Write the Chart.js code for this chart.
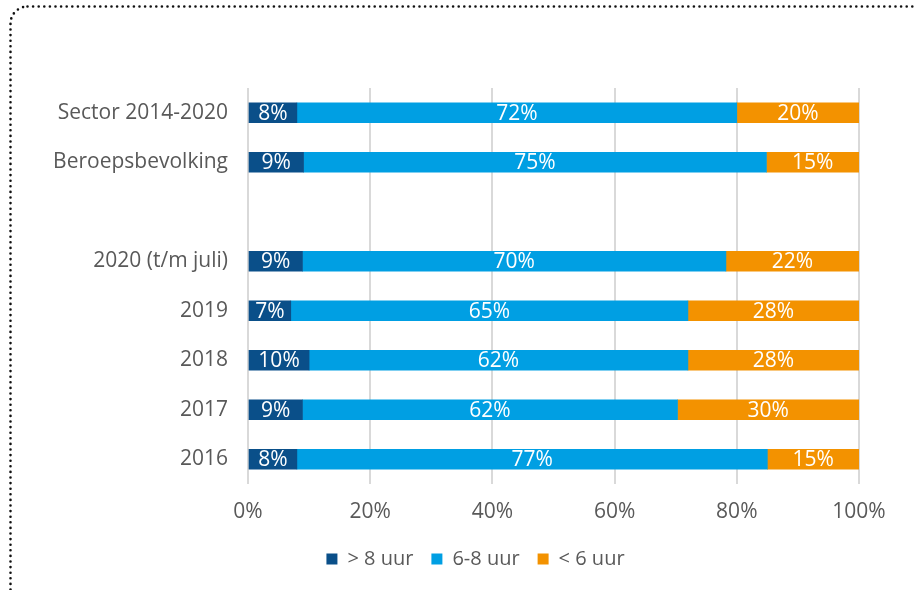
<!DOCTYPE html>
<html>
<head>
<meta charset="utf-8">
<script src="https://cdn.jsdelivr.net/npm/chart.js@4.4.1/dist/chart.umd.min.js"></script>
<style>
    html, body { margin: 0; padding: 0; background: #fff; overflow: hidden; }
    #frame { position: absolute; left: 0; top: 0; }
    #wrap { position: absolute; left: 0; top: 0; width: 914px; height: 590px; }
</style>
</head>
<body>
<svg id="frame" width="914" height="590">
    <rect x="10.5" y="6.5" width="1000" height="700" rx="17" fill="none" stroke="#111"
          stroke-width="2.6" stroke-dasharray="0 5.6" stroke-linecap="round"/>
</svg>
<div id="wrap"><canvas id="slaapChart"></canvas></div>
<script>
const categories = ['Sector 2014-2020', 'Beroepsbevolking', '', '2020 (t/m juli)', '2019', '2018', '2017', '2016'];
const meerDan8 = [8, 9, null, 9, 7, 10, 9, 8];
const tussen6en8 = [72, 75, null, 70, 65, 62, 62, 77];
const minderDan6 = [20, 15, null, 22, 28, 28, 30, 15];
const xTicks = [0, 20, 40, 60, 80, 100];

const colors = {
    dark: '#0a4f89',
    light: '#009fe3',
    orange: '#f39200',
    text: '#595959',
    grid: '#d9d9d9'
};

// 100% gestapeld: elk segment als aandeel van de rijtotaal
function share(series) {
    return series.map((v, i) => {
        if (v === null) return null;
        const total = meerDan8[i] + tussen6en8[i] + minderDan6[i];
        return v / total * 100;
    });
}

const rawSeries = [meerDan8, tussen6en8, minderDan6];

const barLabels = {
    id: 'barLabels',
    afterDatasetsDraw(chart) {
        const ctx = chart.ctx;
        ctx.save();
        ctx.fillStyle = '#fff';
        ctx.font = '21px "Open Sans"';
        ctx.textAlign = 'center';
        ctx.textBaseline = 'middle';
        chart.data.datasets.forEach((ds, di) => {
            const meta = chart.getDatasetMeta(di);
            meta.data.forEach((bar, i) => {
                const v = rawSeries[di][i];
                if (v === null) return;
                const p = bar.getProps(['x', 'y', 'base'], true);
                ctx.fillText(v + '%', (p.x + p.base) / 2, p.y + 1);
            });
        });
        ctx.restore();
    }
};

// legenda iets naar rechts, zoals in het origineel
const legendShift = {
    id: 'legendShift',
    afterLayout(chart) {
        chart.legend.left += 46;
        chart.legend.right += 46;
    }
};

Chart.defaults.font.family = '"Open Sans", sans-serif';
Chart.defaults.font.size = 21;
Chart.defaults.color = colors.text;

new Chart(document.getElementById('slaapChart'), {
    type: 'bar',
    data: {
        labels: categories,
        datasets: [
            { label: '> 8 uur', data: share(meerDan8), backgroundColor: colors.dark },
            { label: '6-8 uur', data: share(tussen6en8), backgroundColor: colors.light },
            { label: '< 6 uur', data: share(minderDan6), backgroundColor: colors.orange }
        ]
    },
    options: {
        indexAxis: 'y',
        responsive: true,
        maintainAspectRatio: false,
        animation: false,
        datasets: {
            bar: { barThickness: 20 }
        },
        layout: {
            padding: { left: 0, top: 88, right: 55, bottom: 11 }
        },
        plugins: {
            legend: {
                position: 'bottom',
                labels: {
                    boxWidth: 11,
                    boxHeight: 11,
                    padding: 18,
                    color: colors.text,
                    font: { size: 20 }
                }
            },
            tooltip: { enabled: false }
        },
        scales: {
            x: {
                stacked: true,
                min: 0,
                max: 100,
                afterBuildTicks(scale) {
                    scale.ticks = xTicks.map(v => ({ value: v }));
                },
                afterFit(scale) {
                    scale.height = 47;
                },
                ticks: {
                    padding: 15,
                    callback: v => v + '%'
                },
                grid: {
                    color: colors.grid,
                    lineWidth: 2,
                    drawTicks: false
                },
                border: { display: false }
            },
            y: {
                stacked: true,
                afterFit(scale) {
                    scale.width = 248;
                },
                ticks: { padding: 12 },
                grid: { display: false },
                border: { display: false }
            }
        }
    },
    plugins: [barLabels, legendShift]
});
</script>
</body>
</html>
